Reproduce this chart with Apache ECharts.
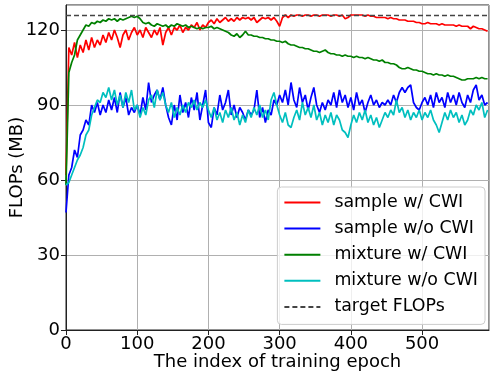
<!DOCTYPE html>
<html>
<head>
<meta charset="utf-8">
<script src="https://cdn.jsdelivr.net/npm/echarts@6/dist/echarts.min.js"></script>
<style>
  html, body { margin: 0; padding: 0; background: #fff; }
  #chart { width: 490px; height: 375px; }
</style>
</head>
<body>
<div id="chart"></div>
<script>
// FLOPs per training epoch, read every 4 epochs
const step = 4
const sampleCWI = [
  62, 113, 110, 115, 109, 114, 111, 116, 112, 117,
  113, 116, 114, 118, 115, 119, 116, 120, 117, 113,
  118, 120, 116, 119, 121, 118, 120, 117, 121, 119,
  117, 120, 118, 121, 114, 119, 121, 118, 121, 120,
  122, 119, 121, 120, 122, 121, 123, 120, 122, 121,
  123, 124, 122.5, 124.5, 123, 124, 125, 123.5, 124.5, 123.5,
  125, 124, 125, 124.5, 125, 124, 125, 123, 124, 125,
  124.5, 125, 124, 125, 123.5, 121.5, 125, 126, 125, 126,
  125.5, 126, 126, 125.5, 126, 126, 125.5, 126, 126, 125.5,
  126, 126, 126, 125.5, 126, 126, 125.5, 126, 124.5, 125,
  126, 126, 126, 126, 126, 125.5, 126, 125.5, 125.5, 125,
  125, 125, 125, 124.5, 125, 124.5, 124.5, 124, 124, 124,
  123.5, 123.5, 123.5, 123, 123, 122.5, 122.5, 123, 122.5, 122.5,
  122.5, 122, 122.5, 122, 122, 122, 122, 121.5, 122, 121.5,
  121.5, 121.5, 120.5, 121.5, 121, 120.5, 120.5, 120, 119.5
]
const sampleNoCWI = [
  47, 62, 65, 72, 69, 78, 80, 84, 82, 90,
  87, 91, 86, 90, 87, 92, 88, 93, 87, 95,
  89, 93, 86, 89, 87, 90, 86, 93, 88, 99,
  91, 94, 96, 92, 97, 90, 85, 82, 90, 84,
  94, 87, 91, 85, 93, 88, 95, 84, 90, 96,
  83, 81, 89, 86, 94, 88, 91, 96, 86, 90,
  85, 89, 87, 84, 88, 86, 88, 96, 85, 89,
  83, 88, 86, 92, 90, 94, 91, 96, 90, 99,
  92, 89, 97, 91, 94, 88, 93, 97, 90, 87,
  91, 88, 92, 90, 95, 89, 96, 91, 94, 89,
  93, 88, 95, 90, 92, 87, 91, 94, 90, 92,
  89, 91, 90, 92, 90, 94, 91, 95, 97, 95,
  97, 98, 91, 89, 88, 91, 93, 90, 94, 89,
  95, 91, 93, 89, 95, 91, 94, 90, 95, 91,
  89, 94, 91, 96, 98, 92, 94, 90, 91
]
const mixtureCWI = [
  58, 103, 107, 110, 116, 118, 120, 122, 121.5, 123,
  122.5, 123.5, 123, 124, 123.5, 124.5, 124, 124.5, 123.5, 124.5,
  124, 124.5, 125, 125.5, 125, 125.5, 124.5, 123, 122.5, 123,
  122, 121.5, 122.5, 122, 121.5, 122, 121, 122, 121.5, 122.5,
  122, 121.5, 122, 121, 121.5, 121, 120.5, 121, 120.5, 121,
  121, 121.5, 120.5, 121, 120.5, 120, 119.5, 119, 118, 117.5,
  118.5, 117, 118, 119.5, 118, 118, 117.5, 117.5, 117, 117,
  116.5, 116.5, 116, 116, 115.5, 115.5, 115, 115.5, 114.5, 114,
  114, 113.5, 113, 113, 112.5, 112.5, 112, 111.5, 111.5, 111,
  111.5, 112, 111, 110.5, 110.5, 110, 110, 109.5, 110, 109.5,
  109.5, 109, 109.5, 109, 109, 108.5, 109, 108.5, 108, 108,
  107.5, 108, 107, 107, 106.5, 106.5, 106, 105, 104.5, 104.5,
  105, 104.5, 104, 104, 103.5, 103.5, 103, 102.5, 102.5, 102,
  102.5, 102, 102, 101.5, 102, 101.5, 101.5, 101, 100.5, 100,
  100, 100.5, 100.5, 100.5, 101, 100.5, 101, 100.5, 100.5
]
const mixtureNoCWI = [
  58, 59, 62, 65, 68, 70, 73, 78, 80, 86,
  89, 92, 91, 95, 93, 97, 92, 96, 90, 94,
  89, 95, 91, 96, 88, 90, 85, 89, 86, 92,
  94, 89, 96, 92, 95, 90, 87, 91, 85, 89,
  86, 90, 87, 91, 89, 92, 88, 91, 89, 92,
  88, 85, 89, 84, 87, 83, 88, 85, 89, 84,
  87, 82, 86, 83, 88, 85, 89, 86, 90, 85,
  88, 84, 92, 95, 90, 86, 83, 87, 82, 81,
  85, 88, 84, 91, 86, 89, 85, 90, 84, 87,
  82, 86, 83, 87, 82, 86, 84, 80, 79, 77,
  82, 86, 83, 87, 84, 88, 83, 86, 82, 85,
  81, 84, 87, 85, 88, 86, 92, 87, 89, 85,
  88, 84, 87, 85, 88, 84, 87, 85, 88, 84,
  82, 79, 83, 87, 84, 88, 85, 87, 83, 86,
  82, 84, 88, 86, 90, 88, 91, 85, 88
]
const targetFlops = 126
const names = ['sample w/ CWI', 'sample w/o CWI', 'mixture w/ CWI', 'mixture w/o CWI', 'target FLOPs']

const chart = echarts.init(document.getElementById('chart'))

const font = 'DejaVu Sans'
const pairs = arr => arr.map((v, i) => [i * step, v])

function curve(name, data, color) {
  return {
    name: name,
    type: 'line',
    data: pairs(data),
    symbol: 'none',
    lineStyle: { color: color, width: 1.7 },
    itemStyle: { color: color }
  }
}

const option = {
  animation: false,
  grid: {
    left: 66, right: 1, top: 5, bottom: 45,
    outerBoundsMode: 'none',
    containLabel: false,
    show: true, borderColor: '#222', borderWidth: 1
  },
  xAxis: {
    type: 'value',
    min: 0, max: 594, interval: 100,
    name: 'The index of training epoch',
    nameLocation: 'middle',
    nameGap: 23,
    nameMoveOverlap: false,
    nameTextStyle: { fontFamily: font, fontSize: 18, color: '#000' },
    axisLine: { lineStyle: { color: '#222' } },
    axisTick: { length: 5, lineStyle: { color: '#222' } },
    axisLabel: { fontFamily: font, fontSize: 18, color: '#000', margin: 5, showMaxLabel: false },
    splitLine: { lineStyle: { color: '#b0b0b0', width: 1 } }
  },
  yAxis: {
    type: 'value',
    min: 0, max: 130, interval: 30,
    name: 'FLOPs (MB)',
    nameLocation: 'middle',
    nameGap: 40,
    nameMoveOverlap: false,
    nameTextStyle: { fontFamily: font, fontSize: 18, color: '#000' },
    axisLine: { show: true, lineStyle: { color: '#222' } },
    axisTick: { show: true, length: 5, lineStyle: { color: '#222' } },
    axisLabel: { fontFamily: font, fontSize: 18, color: '#000', margin: 6, showMaxLabel: false },
    splitLine: { lineStyle: { color: '#b0b0b0', width: 1 } }
  },
  legend: {
    data: names,
    orient: 'vertical',
    right: 5, top: 187,
    itemWidth: 36, itemHeight: 16, itemGap: 9.1,
    padding: [7, 7, 9, 6],
    itemStyle: { opacity: 0 },
    backgroundColor: 'rgba(255,255,255,0.8)',
    borderColor: '#cccccc', borderWidth: 1, borderRadius: 4,
    textStyle: { fontFamily: font, fontSize: 17.4, color: '#000', lineHeight: 16, padding: [0, 0, 0, 9] }
  },
  series: [
    curve(names[0], sampleCWI, '#ff0000'),
    curve(names[1], sampleNoCWI, '#0000ff'),
    curve(names[2], mixtureCWI, '#008000'),
    curve(names[3], mixtureNoCWI, '#00bfbf'),
    {
      name: names[4],
      type: 'line',
      data: [],
      symbol: 'none',
      lineStyle: { color: '#444', width: 1.3, type: [5, 3] },
      itemStyle: { color: '#444' },
      markLine: {
        silent: true,
        symbol: 'none',
        label: { show: false },
        lineStyle: { color: '#444', width: 1.3, type: [5, 3] },
        data: [{ yAxis: targetFlops }]
      }
    }
  ]
}

chart.setOption(option)
</script>
</body>
</html>
